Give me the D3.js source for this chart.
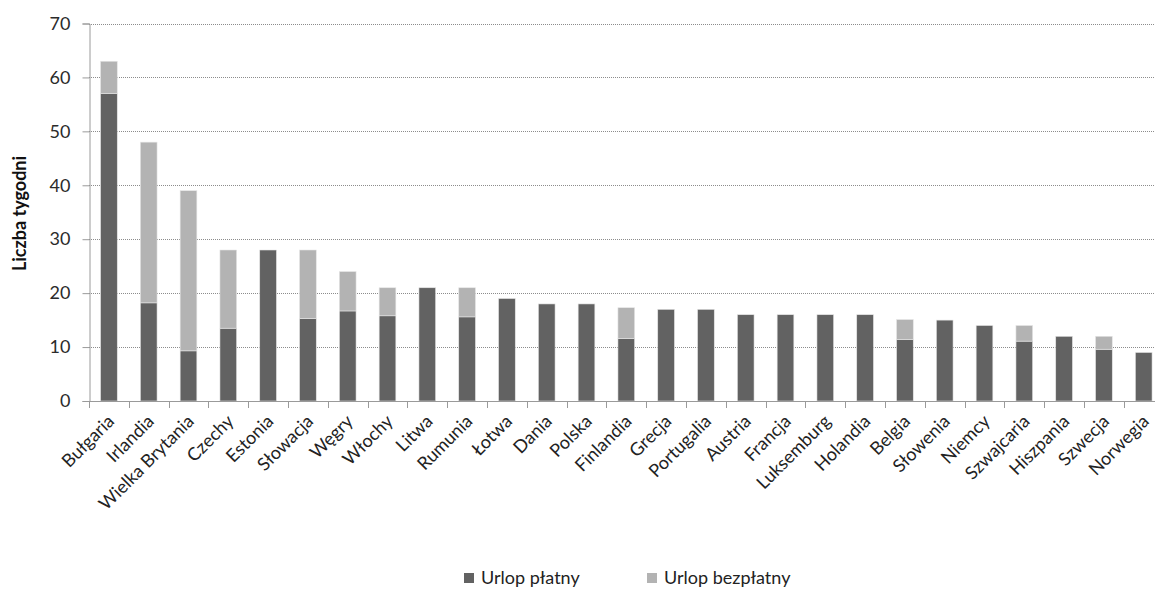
<!DOCTYPE html>
<html>
<head>
<meta charset="utf-8">
<script src="https://cdn.jsdelivr.net/npm/d3@7"></script>
<style>
  html, body { margin: 0; padding: 0; background: #fff; }
  svg text { font-family: Lato, "Open Sans", sans-serif; }
</style>
</head>
<body>
<svg id="chart" width="1155" height="590"></svg>
<script>
// Countries, ordered by total leave length
const countries = ["Bułgaria", "Irlandia", "Wielka Brytania", "Czechy", "Estonia", "Słowacja", "Węgry",
  "Włochy", "Litwa", "Rumunia", "Łotwa", "Dania", "Polska", "Finlandia", "Grecja", "Portugalia",
  "Austria", "Francja", "Luksemburg", "Holandia", "Belgia", "Słowenia", "Niemcy", "Szwajcaria",
  "Hiszpania", "Szwecja", "Norwegia"];

// Paid leave (weeks)
const paid = [57, 18.2, 9.3, 13.5, 28, 15.3, 16.7, 15.8, 21, 15.6, 19, 18, 18, 11.6, 17, 17,
  16, 16, 16, 16, 11.4, 15, 14, 11.1, 12, 9.6, 9];

// Unpaid leave (weeks)
const unpaid = [6, 29.8, 29.7, 14.5, 0, 12.7, 7.3, 5.2, 0, 5.4, 0, 0, 0, 5.7, 0, 0,
  0, 0, 0, 0, 3.7, 0, 0, 2.9, 0, 2.4, 0];

const yTicks = [0, 10, 20, 30, 40, 50, 60, 70];
const seriesNames = ["Urlop płatny", "Urlop bezpłatny"];
const seriesColors = ["#626262", "#b3b3b3"];

const svg = d3.select("#chart");
const margin = { left: 89, top: 23.5 };
const bandW = 39.8;
const plotW = bandW * countries.length;
const plotH = 377.5;

const x = d3.scaleBand().domain(countries).range([margin.left, margin.left + plotW])
  .paddingInner(0.58).paddingOuter(0.29);
const y = d3.scaleLinear().domain([0, 70]).range([margin.top + plotH, margin.top]);

// dotted gridlines
svg.append("g").selectAll("line").data(yTicks.filter(d => d > 0)).join("line")
  .attr("x1", margin.left).attr("x2", margin.left + plotW)
  .attr("y1", d => Math.round(y(d)) + 0.5).attr("y2", d => Math.round(y(d)) + 0.5)
  .attr("stroke", "#8c8c8c").attr("stroke-width", 1).attr("stroke-dasharray", "1,1");

// stacked bars
const rows = countries.map((c, i) => ({ country: c, paid: paid[i], unpaid: unpaid[i] }));
const stack = d3.stack().keys(["paid", "unpaid"])(rows);
svg.append("g").selectAll("g").data(stack).join("g")
  .attr("fill", (d, i) => seriesColors[i])
  .selectAll("rect").data(d => d.filter(s => s[1] - s[0] > 0)).join("rect")
  .attr("x", d => x(d.data.country))
  .attr("width", x.bandwidth())
  .attr("y", d => y(d[1]))
  .attr("height", d => y(d[0]) - y(d[1]))
  .attr("stroke", "#e6e6e6").attr("stroke-width", 0.6);

// y axis
const yAxis = d3.axisLeft(y).tickValues(yTicks).tickSize(7).tickPadding(12);
const gy = svg.append("g").attr("transform", `translate(${margin.left + 0.5},0)`).call(yAxis);
gy.select(".domain").attr("stroke", "#9a9a9a");
gy.selectAll(".tick line").attr("stroke", "#9a9a9a");
gy.selectAll(".tick text").attr("font-size", 18).attr("fill", "#2b2b2b")
  .attr("font-family", "Lato, sans-serif");

// x axis: ticks sit between categories
const xTickPos = d3.range(countries.length + 1).map(i => margin.left + i * bandW);
const gx = svg.append("g");
gx.append("line").attr("x1", margin.left).attr("x2", margin.left + plotW)
  .attr("y1", y(0) + 0.5).attr("y2", y(0) + 0.5).attr("stroke", "#9a9a9a");
gx.selectAll("line.tk").data(xTickPos).join("line").attr("class", "tk")
  .attr("x1", d => Math.round(d) + 0.5).attr("x2", d => Math.round(d) + 0.5)
  .attr("y1", y(0)).attr("y2", y(0) + 7).attr("stroke", "#9a9a9a");

gx.selectAll("text").data(countries).join("text")
  .attr("transform", d => `translate(${x(d) + x.bandwidth() / 2 + 2},${y(0) + 17}) rotate(-45)`)
  .attr("text-anchor", "end").attr("dy", "0.35em")
  .attr("font-size", 18).attr("fill", "#222")
  .text(d => d);

// y axis title
svg.append("text")
  .attr("transform", `translate(26,${margin.top + 190}) rotate(-90)`)
  .attr("text-anchor", "middle").attr("font-size", 18).attr("font-weight", "bold")
  .attr("fill", "#111").text("Liczba tygodni");

// legend
const legendX = [464, 647];
const lg = svg.append("g").selectAll("g").data(seriesNames).join("g")
  .attr("transform", (d, i) => `translate(${legendX[i]},578)`);
lg.append("rect").attr("x", 0).attr("y", -5).attr("width", 10).attr("height", 10)
  .attr("fill", (d, i) => seriesColors[i]);
lg.append("text").attr("x", 17).attr("dy", "0.35em").attr("font-size", 18)
  .attr("fill", "#222").text(d => d);
</script>
</body>
</html>
